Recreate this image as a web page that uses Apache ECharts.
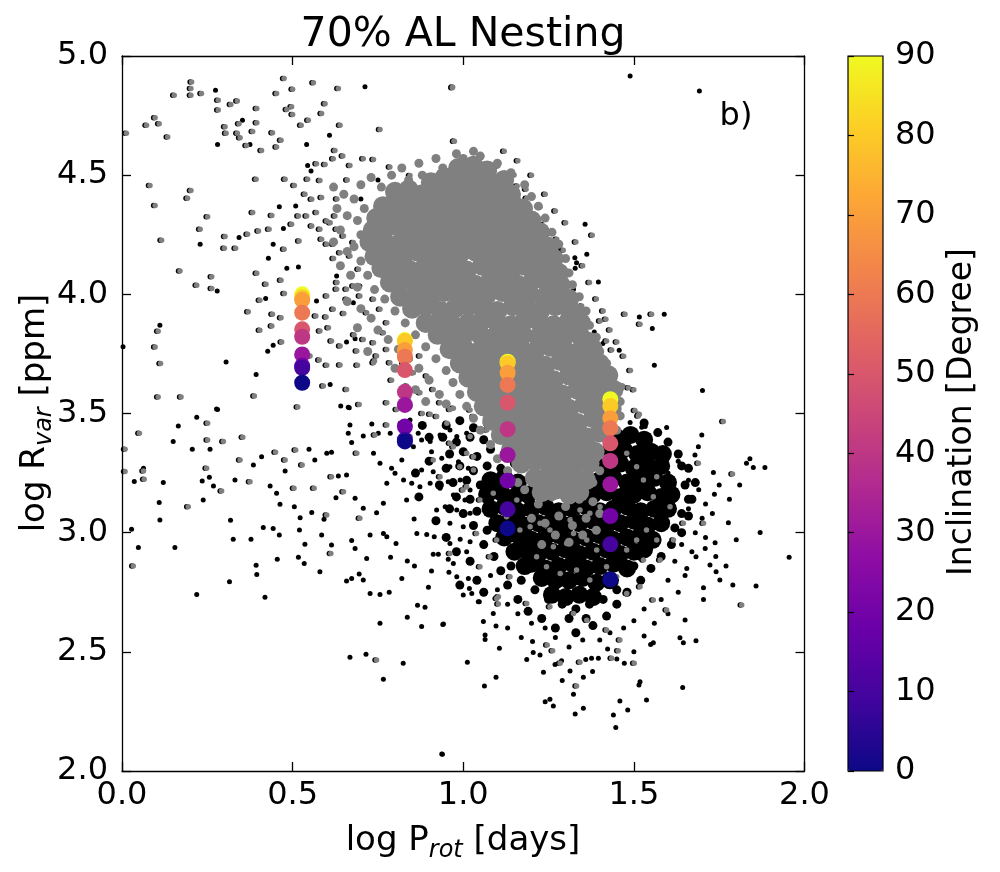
<!DOCTYPE html>
<html><head><meta charset="utf-8">
<script src="https://cdn.jsdelivr.net/npm/echarts@6/dist/echarts.min.js"></script>
<style>html,body{margin:0;padding:0;background:#fff}#c{width:1000px;height:872px}</style>
</head><body><div id="c"></div>
<script>
// ---------------- data ----------------
const xTickLabels = ['0.0','0.5','1.0','1.5','2.0'];
const yTickLabels = ['2.0','2.5','3.0','3.5','4.0','4.5','5.0'];
const cbarTicks = [0,10,20,30,40,50,60,70,80,90];

// model tracks: log P_rot of each track, inclinations, and log R_var per inclination
const incLogP = [0.528, 0.829, 1.130, 1.431];
const incDeg = [90, 80, 70, 60, 50, 40, 30, 20, 10, 0];
const incLogR = [
  [4.000, 3.987, 3.976, 3.923, 3.853, 3.822, 3.748, 3.700, 3.692, 3.629],
  [3.808, 3.804, 3.766, 3.738, 3.682, 3.591, 3.536, 3.445, 3.390, 3.383],
  [3.717, 3.711, 3.671, 3.620, 3.545, 3.434, 3.326, 3.218, 3.098, 3.018],
  [3.560, 3.531, 3.480, 3.438, 3.375, 3.301, 3.203, 3.070, 2.951, 2.804]
];

// dense black population (crowded region)
const blackDense = [
[1.45,3.40],[1.49,3.41],[1.53,3.39],
[1.43,3.34],[1.47,3.35],[1.51,3.33],[1.55,3.34],[1.585,3.33],
[1.42,3.28],[1.46,3.29],[1.50,3.27],[1.54,3.28],[1.58,3.28],
[1.08,3.22],[1.12,3.23],[1.16,3.21],[1.40,3.22],[1.44,3.23],[1.48,3.21],[1.52,3.22],[1.56,3.23],[1.60,3.21],
[1.07,3.16],[1.11,3.17],[1.15,3.15],[1.19,3.16],[1.38,3.16],[1.42,3.17],[1.46,3.15],[1.50,3.16],[1.54,3.17],[1.58,3.15],[1.61,3.16],
[1.08,3.10],[1.12,3.11],[1.16,3.09],[1.20,3.10],[1.24,3.11],[1.28,3.09],[1.32,3.10],[1.36,3.11],[1.40,3.09],[1.44,3.10],[1.48,3.11],[1.52,3.09],[1.56,3.10],[1.60,3.10],
[1.10,3.04],[1.14,3.05],[1.18,3.03],[1.22,3.04],[1.26,3.05],[1.30,3.03],[1.34,3.04],[1.38,3.05],[1.42,3.03],[1.46,3.04],[1.50,3.05],[1.54,3.03],[1.58,3.04],
[1.12,2.98],[1.16,2.99],[1.20,2.97],[1.24,2.98],[1.28,2.99],[1.32,2.97],[1.36,2.98],[1.40,2.99],[1.44,2.97],[1.48,2.98],[1.52,2.99],[1.555,2.97],
[1.15,2.92],[1.18,2.93],[1.22,2.91],[1.26,2.92],[1.30,2.93],[1.34,2.91],[1.38,2.92],[1.42,2.93],[1.46,2.91],[1.50,2.92],[1.53,2.93],
[1.18,2.86],[1.20,2.87],[1.24,2.85],[1.28,2.86],[1.32,2.87],[1.36,2.85],[1.40,2.86],[1.44,2.87],[1.48,2.85],
[1.23,2.81],[1.27,2.80],[1.31,2.80],[1.35,2.81],[1.39,2.79],[1.43,2.80],
[1.26,2.74],[1.30,2.73],[1.34,2.74],[1.38,2.73]
];

// medium density black ring
const blackMid = [
[0.95,3.45],[0.99,3.47],[1.03,3.44],[1.07,3.46],[0.94,3.40],[0.98,3.38],[1.02,3.40],[1.06,3.39],[1.10,3.41],
[0.96,3.33],[1.00,3.34],[1.04,3.32],[1.08,3.35],[1.12,3.33],[0.95,3.27],[0.99,3.28],[1.03,3.26],[1.07,3.28],[1.11,3.27],[1.15,3.29],
[0.97,3.21],[1.01,3.22],[1.05,3.20],[0.98,3.15],[1.02,3.14],[1.00,3.08],[1.04,3.09],[1.03,3.03],[1.07,3.01],[1.06,2.95],
[1.09,2.90],[1.11,2.84],[1.13,2.78],[1.16,2.72],[1.19,2.67],[1.23,2.64],[1.27,2.60],[1.33,2.58],[1.38,2.61],[1.42,2.65],
[1.45,2.70],[1.48,2.75],[1.52,2.80],[1.55,2.85],[1.58,2.90],[1.61,2.95],[1.64,3.00],[1.66,3.07],[1.67,3.14],[1.68,3.21],
[1.66,3.27],[1.63,3.33],[1.60,3.38],[1.57,3.42],[1.53,3.46],
[0.88,3.45],[0.90,3.30],[0.87,3.15],[0.92,3.05],[0.95,2.98],[0.98,2.92],[1.02,2.88],[0.93,3.20],[0.96,3.10],[0.90,3.40],
[0.86,3.25],[1.04,2.80],[1.06,2.75],[0.99,2.78],
[1.25,2.72],[1.29,2.70],[1.33,2.68],[1.37,2.70],[1.41,2.72],[1.21,2.76],[1.45,2.76],[1.31,2.64],[1.36,2.64],[1.64,3.28],
[1.65,3.20],[1.66,3.14],[1.64,3.08],[1.62,3.02],[1.50,2.86],[1.52,2.90],[1.14,2.86],[1.17,2.80]
];

// sparse black population
const blackPts = [
[0.274,4.856],[0.608,4.667],[0.712,4.871],[0.353,4.730],[0.375,4.629],[0.280,4.629],[0.541,4.629],[0.229,4.210],[0.343,4.238],
[0.473,4.276],[0.509,4.371],[0.461,4.368],[0.554,4.517],[0.544,4.541],[0.279,4.014],[0.429,4.151],[0.443,4.210],[0.483,4.109],
[0.517,4.115],[0.421,3.983],[0.443,3.786],[0.427,3.761],[0.393,3.664],[0.305,3.716],[0.111,3.870],[0.280,3.517],[0.610,3.622],
[0.641,3.531],[0.666,3.524],[0.658,3.800],[0.683,3.814],[0.917,4.399],[0.995,4.427],[0.629,4.077],[0.697,4.035],[0.678,3.965],
[0.570,3.972],[0.750,4.480],[0.700,4.400],[0.003,3.780],
[0.277,3.519],[0.219,3.484],[0.165,3.448],[0.150,3.382],[0.206,3.350],[0.258,3.350],[0.036,3.215],[0.121,3.211],[0.109,3.127],
[0.111,3.053],[0.238,3.137],[0.256,3.232],[0.268,3.196],[0.235,3.217],[0.331,3.221],[0.385,3.284],[0.409,3.319],[0.548,3.350],
[0.565,3.305],[0.600,3.333],[0.614,3.337],[0.478,3.259],[0.434,3.196],[0.453,3.165],[0.463,3.119],[0.505,3.109],[0.522,3.063],
[0.556,3.085],[0.592,3.056],[0.318,3.052],[0.326,2.972],[0.378,2.972],[0.414,3.022],[0.443,3.018],[0.461,2.990],[0.520,3.011],
[0.536,2.951],[0.585,2.990],[0.614,2.948],[0.455,2.888],[0.517,2.897],[0.534,2.871],[0.580,2.836],[0.393,2.863],[0.395,2.825],
[0.315,2.794],[0.219,2.741],[0.419,2.729],[0.048,2.938],[0.155,2.938],[0.028,3.014],[0.063,3.270],[0.634,3.238],[0.658,3.242],
[0.627,3.147],[0.683,3.144],[0.707,3.102],[0.746,3.084],[0.766,3.123],[0.727,2.990],[0.766,2.997],[0.776,2.983],[0.673,2.967],
[0.683,2.934],[0.717,2.892],[0.803,2.955],[0.787,2.897],[0.820,2.808],[0.658,2.797],[0.673,2.808],[0.695,2.827],[0.707,2.801],
[0.727,2.745],[0.756,2.741],[0.783,2.750],[0.836,2.881],[0.857,2.860],[0.866,2.695],[0.888,2.687],[0.836,2.645],[0.878,2.606],
[0.940,2.615],[0.756,2.620],[0.668,2.477],[0.715,2.490],[0.824,2.452],[0.766,2.385],[1.012,2.456],[0.937,2.071],[0.893,2.992],
[0.915,2.983],[0.907,2.839],[0.898,2.771],[0.864,2.997],[0.856,3.057],[1.000,2.738],[1.018,2.766],[1.044,2.710],[0.958,2.834],
[0.981,2.815],[1.015,2.808],[0.956,2.888],[0.971,2.871],[0.912,2.909],[0.927,2.909],[0.961,2.955],[0.991,2.972],[1.020,2.962],
[1.010,2.920],[0.668,3.452],[0.663,3.417],[0.673,3.378],[0.707,3.406],[0.732,3.456],[0.751,3.417],[0.786,3.417],[0.815,3.459],
[0.844,3.473],[0.868,3.417],[0.878,3.389],[0.854,3.361],[0.903,3.382],[0.932,3.410],[0.961,3.431],[0.981,3.403],[1.010,3.417],
[0.907,3.340],[0.937,3.312],[0.961,3.277],[0.986,3.298],[1.015,3.270],[0.912,3.256],[0.878,3.263],[0.849,3.207],[0.873,3.193],
[0.903,3.207],[0.932,3.186],[0.956,3.214],[0.991,3.221],[1.020,3.179],[0.971,3.158],[1.005,3.137],[0.922,3.095],[0.947,3.109],
[0.981,3.095],[1.020,3.081],[0.961,3.039],[1.000,3.025],[0.737,3.333],[0.756,3.291],[0.790,3.270],[0.820,3.305],[0.776,3.207],
[0.800,3.249],[0.825,3.221],[0.834,3.137],[0.663,3.526],
[1.489,4.916],[1.692,4.853],[1.067,4.538],[1.083,4.513],[1.230,4.294],[1.281,4.196],[1.327,4.154],[1.332,4.133],[1.328,4.109],
[1.357,4.294],[1.362,4.168],[1.396,4.052],[1.323,4.021],[1.384,3.842],[1.409,3.794],[1.457,3.765],[1.516,3.905],[1.589,3.916],
[1.554,3.857],[1.560,3.702],[1.701,3.597],
[1.699,3.410],[1.596,3.441],[1.523,3.442],[1.533,3.445],[1.489,3.462],[1.689,3.361],[1.679,3.326],[1.733,3.252],[1.830,3.291],
[1.850,3.273],[1.884,3.273],[1.840,3.310],[1.736,3.161],[1.777,3.042],[1.870,3.001],[1.955,2.897],[1.858,2.776],[1.752,2.801],
[1.741,2.836],[1.723,2.864],[1.738,2.958],[1.709,2.934],[1.704,2.720],[1.704,2.769],[1.682,2.899],[1.655,2.850],[1.650,2.634],
[1.682,2.547],[1.645,2.538],[1.643,2.350],[1.635,2.559],[1.557,2.538],[1.530,2.566],[1.549,2.531],[1.518,2.375],[1.515,2.361],
[1.537,2.298],[1.482,2.256],[1.459,2.294],[1.440,2.235],[1.447,2.183],[1.472,2.452],[1.423,2.512],[1.396,2.473],[1.376,2.473],
[1.359,2.468],[1.379,2.417],[1.352,2.393],[1.323,2.322],[1.352,2.263],[1.328,2.239],[1.313,2.420],[1.269,2.447],[1.288,2.463],
[1.235,2.414],[1.254,2.301],[1.240,2.291],[1.264,2.273],[1.225,2.487],[1.205,2.497],[1.186,2.468],[1.106,2.515],[1.096,2.393],
[1.062,2.357],[1.064,2.571],[1.064,2.552],[1.059,2.627],[1.088,2.661],[1.096,2.608],[0.942,2.617],[0.939,2.070],[1.203,2.543],
[1.047,2.710],[1.025,2.745],
[1.60,3.25],[1.63,3.30],[1.66,3.22],[1.69,3.18],[1.71,3.12],[1.66,3.10],[1.70,3.06],[1.73,3.08],[1.68,3.00],[1.64,2.95],
[1.67,2.92],[1.71,2.98],[1.62,2.88],[1.65,2.82],[1.60,2.80],[1.63,2.75],[1.58,2.72],[1.60,2.66],[1.56,2.62],[1.53,2.68],
[1.50,2.63],[1.47,2.60],[1.43,2.58],[1.40,2.55],[1.35,2.55],[1.31,2.52],[1.27,2.56],[1.24,2.60],[1.20,2.62],[1.16,2.66],
[1.13,2.70],[1.10,2.76],[1.08,2.82],[1.75,3.20],[1.78,3.14],[1.74,2.90],[1.77,2.86],[1.80,2.97],[1.81,3.20],[1.79,2.78],
[1.45,2.47],[1.50,2.50],[1.29,2.38],[1.17,2.56],[1.13,2.60]
];

// dense grey population (crowded region)
const greyDense = [
[0.985,4.53],[1.03,4.54],[1.07,4.52],
[0.905,4.47],[0.945,4.49],[0.99,4.48],[1.035,4.49],[1.08,4.47],[1.12,4.48],
[0.80,4.43],[0.84,4.44],[0.88,4.42],[0.925,4.43],[0.965,4.44],[1.01,4.43],[1.05,4.42],[1.095,4.44],[1.14,4.42],
[0.765,4.37],[0.805,4.38],[0.85,4.37],[0.89,4.39],[0.935,4.38],[0.975,4.37],[1.02,4.38],[1.06,4.39],[1.10,4.37],[1.145,4.38],[1.175,4.36],
[0.745,4.32],[0.79,4.33],[0.83,4.32],[0.875,4.34],[0.915,4.33],[0.955,4.32],[1.00,4.33],[1.04,4.32],[1.085,4.34],[1.125,4.33],[1.165,4.32],[1.20,4.31],
[0.735,4.27],[0.775,4.28],[0.82,4.27],[0.86,4.29],[0.90,4.28],[0.945,4.27],[0.985,4.28],[1.03,4.29],[1.07,4.27],[1.11,4.28],[1.155,4.27],[1.195,4.28],[1.225,4.26],
[0.725,4.22],[0.765,4.23],[0.81,4.21],[0.85,4.22],[0.89,4.23],[0.935,4.22],[0.975,4.21],[1.02,4.23],[1.06,4.22],[1.10,4.21],[1.145,4.23],[1.185,4.22],[1.225,4.21],[1.25,4.20],
[0.74,4.16],[0.78,4.17],[0.825,4.16],[0.865,4.18],[0.905,4.17],[0.95,4.16],[0.99,4.17],[1.035,4.18],[1.075,4.16],[1.12,4.17],[1.16,4.16],[1.20,4.18],[1.24,4.16],[1.265,4.15],
[0.76,4.11],[0.80,4.12],[0.845,4.10],[0.885,4.11],[0.93,4.12],[0.97,4.11],[1.01,4.10],[1.055,4.12],[1.095,4.11],[1.14,4.10],[1.18,4.12],[1.22,4.11],[1.26,4.10],[1.28,4.09],
[0.785,4.05],[0.825,4.06],[0.87,4.04],[0.91,4.05],[0.95,4.06],[0.995,4.05],[1.035,4.04],[1.08,4.06],[1.12,4.05],[1.16,4.04],[1.205,4.06],[1.245,4.05],[1.285,4.04],
[0.815,3.99],[0.86,4.00],[0.905,3.99],[0.945,4.01],[0.985,4.00],[1.03,3.99],[1.07,4.00],[1.115,4.01],[1.155,3.99],[1.195,4.00],[1.24,3.99],[1.28,4.00],[1.31,3.98],
[0.85,3.94],[0.89,3.95],[0.935,3.93],[0.975,3.94],[1.015,3.95],[1.06,3.94],[1.10,3.93],[1.145,3.95],[1.185,3.94],[1.225,3.93],[1.27,3.95],[1.31,3.94],[1.33,3.92],
[0.89,3.88],[0.93,3.89],[0.97,3.87],[1.015,3.88],[1.055,3.89],[1.10,3.88],[1.14,3.87],[1.18,3.89],[1.225,3.88],[1.265,3.87],[1.31,3.89],[1.345,3.88],
[0.925,3.83],[0.965,3.82],[1.01,3.84],[1.05,3.83],[1.09,3.82],[1.135,3.84],[1.175,3.83],[1.22,3.82],[1.26,3.84],[1.30,3.83],[1.345,3.82],[1.37,3.80],
[0.96,3.77],[1.00,3.78],[1.045,3.76],[1.085,3.77],[1.13,3.78],[1.17,3.77],[1.21,3.76],[1.255,3.78],[1.295,3.77],[1.34,3.76],[1.38,3.77],
[0.99,3.71],[1.03,3.72],[1.075,3.70],[1.115,3.71],[1.16,3.72],[1.20,3.71],[1.24,3.70],[1.285,3.72],[1.325,3.71],[1.37,3.70],[1.40,3.71],
[1.015,3.65],[1.055,3.66],[1.10,3.64],[1.14,3.65],[1.185,3.66],[1.225,3.65],[1.265,3.64],[1.31,3.66],[1.35,3.65],[1.39,3.64],[1.425,3.66],
[1.04,3.59],[1.08,3.60],[1.125,3.58],[1.165,3.59],[1.21,3.60],[1.25,3.59],[1.29,3.58],[1.335,3.60],[1.375,3.59],[1.415,3.58],[1.44,3.60],
[1.06,3.53],[1.10,3.54],[1.145,3.52],[1.185,3.53],[1.23,3.54],[1.27,3.53],[1.31,3.52],[1.355,3.54],[1.395,3.53],[1.435,3.52],
[1.085,3.47],[1.125,3.48],[1.17,3.46],[1.21,3.47],[1.25,3.48],[1.295,3.47],[1.335,3.46],[1.38,3.48],[1.42,3.47],
[1.11,3.41],[1.15,3.42],[1.195,3.40],[1.235,3.41],[1.28,3.42],[1.32,3.41],[1.36,3.40],[1.40,3.42],
[1.14,3.35],[1.18,3.36],[1.225,3.34],[1.265,3.35],[1.305,3.36],[1.35,3.35],[1.385,3.34],
[1.17,3.29],[1.21,3.30],[1.255,3.28],[1.295,3.29],[1.335,3.30],[1.37,3.29],
[1.21,3.23],[1.25,3.24],[1.29,3.22],[1.33,3.23],[1.36,3.22],
[1.23,3.17],[1.27,3.18],[1.31,3.16],[1.34,3.17]
];

// medium density grey halo
const greyMid = [
[0.70,4.46],[0.73,4.49],[0.76,4.45],[0.68,4.40],[0.71,4.36],[0.69,4.31],[0.70,4.25],[0.68,4.20],[0.70,4.14],[0.72,4.08],
[0.74,4.02],[0.77,3.98],[0.80,3.93],[0.83,3.88],[0.86,3.83],[0.89,3.78],[0.92,3.73],[0.95,3.68],[0.97,3.63],[0.99,3.58],
[1.01,3.53],[1.03,3.48],[1.05,3.43],[1.08,3.37],[1.10,3.31],[1.13,3.26],[1.16,3.21],
[0.84,4.48],[0.88,4.50],[0.94,4.53],[1.00,4.57],[1.05,4.58],[1.10,4.55],[1.14,4.51],[1.18,4.46],[1.20,4.41],
[1.22,4.37],[1.24,4.32],[1.26,4.26],[1.28,4.21],[1.30,4.15],[1.31,4.09],[1.32,4.04],[1.34,3.99],[1.36,3.93],[1.37,3.87],
[1.39,3.82],[1.40,3.76],[1.42,3.71],[1.44,3.66],[1.46,3.61],[1.46,3.55],[1.46,3.49],[1.45,3.43],[1.43,3.37],[1.42,3.31],
[1.40,3.26],[1.38,3.21],
[1.18,3.18],[1.22,3.12],[1.26,3.15],[1.30,3.11],[1.34,3.14],[1.38,3.13],[1.20,3.06],[1.24,3.04],[1.28,3.07],[1.32,3.03],
[1.36,3.06],[1.40,3.08],[1.27,2.99],[1.31,2.96],[1.35,2.99],[1.23,2.95],[1.39,3.01],
[0.62,4.45],[0.65,4.42],[0.63,4.36],[0.66,4.33],[0.64,4.27],[0.62,4.22],[0.66,4.18],[0.64,4.12],[0.67,4.08],[0.69,4.03],
[0.66,3.97],[0.70,3.94],[0.73,3.90],[0.69,3.86],[0.75,3.85],[0.78,3.81],[0.72,3.76],[0.81,3.77],[0.84,3.73],[0.80,3.69],
[0.87,3.69],[0.90,3.64],[0.86,3.60],[0.93,3.58],[0.95,3.54],[0.89,3.55],
[0.79,4.50],[0.82,4.53],[0.87,4.55],[0.92,4.57],[0.98,4.59],[1.03,4.60]
];

// sparse grey population
const greyPts = [
[0.204,4.891],[0.202,4.864],[0.202,4.835],[0.153,4.835],[0.233,4.843],[0.282,4.814],[0.282,4.773],[0.319,4.797],[0.338,4.811],
[0.395,4.780],[0.483,4.776],[0.497,4.787],[0.500,4.755],[0.475,4.906],[0.500,4.860],[0.453,4.843],[0.561,4.888],[0.634,4.864],
[0.595,4.800],[0.585,4.759],[0.546,4.730],[0.525,4.709],[0.639,4.709],[0.756,4.692],[0.968,4.867],[0.973,4.642],[1.018,4.538],
[0.013,4.676],[0.072,4.709],[0.097,4.741],[0.109,4.716],[0.134,4.660],[0.302,4.703],[0.305,4.676],[0.338,4.676],[0.343,4.716],
[0.395,4.720],[0.383,4.683],[0.346,4.657],[0.365,4.625],[0.409,4.604],[0.441,4.678],[0.466,4.646],[0.453,4.618],[0.082,4.457],
[0.202,4.436],[0.192,4.403],[0.097,4.373],[0.251,4.326],[0.229,4.273],[0.116,4.227],[0.302,4.243],[0.300,4.193],[0.333,4.193],
[0.368,4.252],[0.400,4.266],[0.431,4.273],[0.497,4.294],[0.517,4.329],[0.383,4.343],[0.439,4.331],[0.393,4.483],[0.478,4.483],
[0.505,4.457],[0.544,4.483],[0.580,4.478],[0.570,4.548],[0.595,4.545],[0.624,4.604],[0.647,4.580],[0.619,4.569],[0.668,4.541],
[0.707,4.569],[0.737,4.566],[0.785,4.534],[0.844,4.499],[0.873,4.443],[0.834,4.462],[0.805,4.434],[0.170,4.098],[0.263,4.074],
[0.219,4.038],[0.263,4.025],[0.475,4.189],[0.519,4.224],[0.395,4.088],[0.422,4.042],[0.466,4.059],[0.476,4.004],[0.404,3.975],
[0.370,3.927],[0.441,3.916],[0.466,3.902],[0.404,3.849],[0.439,3.867],[0.468,3.800],[0.106,3.845],[0.097,3.779],[0.113,3.710],
[0.106,3.569],[0.173,3.569],[0.388,3.573],[0.515,3.527],[0.590,3.615],[0.658,3.601],[0.695,3.538],[0.578,3.724],[0.600,3.702],
[0.551,3.741],[0.568,3.909],[0.598,3.905],[0.605,3.860],[0.580,3.846],[0.614,3.804],[0.639,3.783],[0.688,3.762],[0.690,3.702],
[0.639,3.703],[0.536,4.420],[0.556,4.399],[0.585,4.406],[0.541,4.329],[0.570,4.343],[0.600,4.308],[0.624,4.329],[0.556,4.287],
[0.580,4.273],[0.629,4.273],[0.649,4.245],[0.600,4.210],[0.585,4.231],[0.619,4.210],[0.639,4.175],[0.668,4.161],[0.678,4.217],
[0.693,4.105],[0.678,4.035],[0.658,4.021],[0.629,4.021],[0.600,3.993],[0.619,3.937],[0.658,3.979],[0.697,3.993],[0.737,3.979],
[0.717,3.923],[0.756,3.937],[0.776,3.881],[0.766,3.839],[0.737,3.797],[0.707,3.811],[0.776,3.769],[0.746,3.741],[0.785,3.713],
[0.737,3.713],[0.824,3.713],[0.854,3.671],[0.873,3.741],[0.893,3.657],[0.834,3.615],[0.873,3.587],[0.912,3.601],[0.776,3.545],
[0.805,3.517],[0.844,3.531],[0.932,3.545],[0.961,3.517],[0.903,3.497],
[0.051,3.417],[0.251,3.459],[0.251,3.389],[0.297,3.383],[0.354,3.400],[0.009,3.350],[0.009,3.257],[0.063,3.259],[0.065,3.224],
[0.194,3.109],[0.248,3.270],[0.292,3.175],[0.346,3.305],[0.375,3.214],[0.450,3.337],[0.478,3.305],[0.509,3.347],[0.528,3.284],
[0.504,3.186],[0.563,3.186],[0.600,3.074],[0.612,2.913],[0.033,2.860],[0.614,3.235],[0.649,3.172],[0.697,3.060],[0.746,2.466],
[0.688,3.333],[0.741,3.410],[0.776,3.452],[0.912,3.305],[0.971,3.361],[1.010,3.333],[1.020,3.403],[0.952,3.459],[0.922,3.487],
[0.971,3.522],[1.020,3.515],[0.844,3.403],[0.932,3.235],[0.999,3.179],[1.030,3.263],[0.961,2.913],[1.039,2.997],
[0.969,4.870],[0.974,4.642],[1.101,4.538],[1.149,4.501],[1.132,4.457],[1.158,4.455],[1.184,4.441],[1.186,4.403],[1.225,4.366],
[1.201,4.301],[1.244,4.266],[1.274,4.231],[1.293,4.185],[1.378,4.248],[1.303,4.091],[1.347,3.951],[1.352,3.912],[1.401,3.888],
[1.418,3.895],[1.420,3.804],[1.435,3.766],[1.474,3.916],[1.518,3.874],[1.552,3.916],[1.484,3.608],[1.467,3.615],[1.503,3.513],
[1.516,3.497],[1.445,3.664],[1.430,3.685],[1.391,3.713],[0.981,4.469],[0.971,4.434],
[1.762,3.466],[1.513,3.489],[1.689,3.291],[1.789,3.246],[1.816,2.696],[1.704,3.039],[1.501,2.452],[1.435,2.473],[1.454,2.505],
[1.342,2.456],[1.332,2.357],[1.284,2.452],[1.262,2.505],[1.246,2.529],[1.098,2.724],[1.103,2.701],
[1.166,3.011],[1.196,3.025],[1.225,3.039],[1.254,3.011],[1.284,3.067],[1.313,3.053],[1.342,3.095],[1.371,3.081],[1.401,3.109],
[1.323,2.997],[1.362,2.969],[1.391,2.927],[1.303,2.955],[1.264,2.941],[1.215,2.899],[1.244,2.857],[1.284,2.829],[1.332,2.843],
[1.371,2.801],[1.420,2.857],[1.450,2.815],[1.479,2.745],[1.518,2.773],[1.557,2.717],[1.596,2.676],[1.186,2.703],[1.254,2.689],
[1.323,2.661],[1.362,2.633],[1.420,2.592],[1.459,2.550],[1.479,2.927],[1.508,2.969],[1.537,3.011],[1.567,2.969],[1.528,2.885],
[1.577,2.885],[1.616,2.969],[1.606,3.109],[1.645,3.039],[1.557,3.151],[1.528,3.221],[1.567,3.235],[1.508,3.277],[1.479,3.333],
[1.157,3.137],[1.127,3.067],[1.098,2.969],[1.078,2.899],[1.137,2.815],[1.103,2.731],[1.049,2.857],[1.088,3.165],[1.049,3.137],
[1.010,3.193],[0.990,3.277],[1.030,3.319],[0.961,3.375],[1.069,3.431],[1.030,3.487],
[1.30,4.30],[1.33,4.22],[1.35,4.12],[1.37,4.05],[1.39,3.98],[1.41,3.93],[1.43,3.85],[1.45,3.80],[1.47,3.74],[1.49,3.68],
[1.50,3.60],[1.27,4.35],[1.24,4.42],[1.20,4.50],[1.16,4.56],[1.12,4.60],
[0.66,4.48],[0.63,4.40],[0.61,4.30],[0.62,4.15],[0.63,4.05],[0.65,3.92],[0.68,3.83],[0.74,3.72],[0.79,3.64],[0.84,3.57],[0.88,3.50]
];

// ---------------- chart ----------------
const FONT = 'DejaVu Sans';
const plasma = ['#0d0887','#41049d','#6a00a8','#8f0da4','#b12a90','#cc4778','#e16462','#f2844b','#fca636','#fcce25','#f0f921'];

const incData = [];
incLogP.forEach((lp, g) => incDeg.forEach((d, k) => incData.push([lp, incLogR[g][k], d])));

function sc(name, data, size, color, extra) {
  return Object.assign({
    name, type: 'scatter', data, symbolSize: size, xAxisIndex: 0, yAxisIndex: 0,
    itemStyle: { color: color, opacity: 1 }, silent: true, animation: false, z: 2
  }, extra || {});
}

const axisLineStyle = { color: '#000', width: 1.3 };
const mainTick = { show: true, inside: true, length: 9, lineStyle: { color: '#000', width: 1.3 } };
const labelStyle = { color: '#000', fontSize: 32, fontFamily: FONT };

const option = {
  backgroundColor: '#fff',
  animation: false,
  grid: [
    { left: 122, right: 195.5, top: 56, bottom: 101, containLabel: false },
    { left: 848, top: 56, width: 35, height: 715, show: true, borderColor: '#000', borderWidth: 1.2, backgroundColor: 'rgba(0,0,0,0)', z: 10 }
  ],
  xAxis: [
    { gridIndex: 0, type: 'value', min: 0, max: 2, interval: 0.5, position: 'bottom', z: 10,
      axisLine: { show: true, lineStyle: axisLineStyle }, axisTick: mainTick,
      axisLabel: Object.assign({ margin: 9, formatter: v => xTickLabels[Math.round(v / 0.5)] }, labelStyle),
      splitLine: { show: false } },
    { gridIndex: 0, type: 'value', min: 0, max: 2, interval: 0.5, position: 'top', z: 10,
      axisLine: { show: true, onZero: false, lineStyle: axisLineStyle }, axisTick: mainTick,
      axisLabel: { show: false }, splitLine: { show: false } },
    { gridIndex: 1, type: 'value', min: 0, max: 1, show: false }
  ],
  yAxis: [
    { gridIndex: 0, type: 'value', min: 2, max: 5, interval: 0.5, position: 'left', z: 10,
      axisLine: { show: true, onZero: false, lineStyle: axisLineStyle }, axisTick: mainTick,
      axisLabel: Object.assign({ margin: 14, formatter: v => yTickLabels[Math.round((v - 2) / 0.5)] }, labelStyle),
      splitLine: { show: false } },
    { gridIndex: 0, type: 'value', min: 2, max: 5, interval: 0.5, position: 'right', z: 10,
      axisLine: { show: true, onZero: false, lineStyle: axisLineStyle }, axisTick: mainTick,
      axisLabel: { show: false }, splitLine: { show: false } },
    { gridIndex: 1, type: 'value', min: 0, max: 90, interval: 10, position: 'right', z: 10,
      axisLine: { show: false },
      axisTick: { show: true, inside: false, length: 6, lineStyle: { color: '#000', width: 1.2 } },
      axisLabel: Object.assign({ margin: 12, formatter: v => String(cbarTicks[Math.round(v / 10)]) }, labelStyle),
      splitLine: { show: false } }
  ],
  visualMap: {
    type: 'continuous', min: 0, max: 90, dimension: 2, seriesIndex: 7,
    orient: 'vertical', left: 848, top: 56, itemWidth: 35, itemHeight: 715, padding: 0,
    calculable: false, realtime: false, hoverLink: false, text: null,
    inRange: { color: plasma, opacity: 1 }, textStyle: { color: 'rgba(0,0,0,0)' }
  },
  series: [
    sc('blackDense', blackDense, 18, '#000'),
    sc('blackMid', blackMid, 9, '#000'),
    sc('blackPts', blackPts, 5, '#000'),
    sc('greyShadow', greyPts, 5.5, '#000', { symbolOffset: [-1.5, 0] }),
    sc('greyDense', greyDense, 20, '#808080'),
    sc('greyMid', greyMid, 9, '#808080'),
    sc('greyPts', greyPts, 5.5, '#808080'),
    sc('inclination', incData, 16, '#000', { z: 3 })
  ],
  graphic: [
    { type: 'text', x: 463, y: 35, z: 20, silent: true,
      style: { text: '70% AL Nesting', font: '41px "DejaVu Sans"', fill: '#000', textAlign: 'center', textVerticalAlign: 'middle', align: 'center', verticalAlign: 'middle' } },
    { type: 'text', x: 736, y: 117, z: 20, silent: true,
      style: { text: 'b)', font: '32px "DejaVu Sans"', fill: '#000', textAlign: 'center', textVerticalAlign: 'middle', align: 'center', verticalAlign: 'middle' } },
    { type: 'text', x: 463, y: 841, z: 20, silent: true,
      style: { text: '{a|log P}{s|rot}{a| [days]}', fill: '#000', textAlign: 'center', textVerticalAlign: 'middle', align: 'center', verticalAlign: 'middle',
        rich: { a: { fontSize: 34, fontFamily: FONT, lineHeight: 44, fill: '#000' },
                s: { fontSize: 24, fontFamily: FONT, fontStyle: 'italic', lineHeight: 24, verticalAlign: 'bottom', fill: '#000' } } } },
    { type: 'text', x: 35, y: 413, rotation: Math.PI / 2, z: 20, silent: true,
      style: { text: '{a|log R}{s|var}{a| [ppm]}', fill: '#000', textAlign: 'center', textVerticalAlign: 'middle', align: 'center', verticalAlign: 'middle',
        rich: { a: { fontSize: 34, fontFamily: FONT, lineHeight: 44, fill: '#000' },
                s: { fontSize: 24, fontFamily: FONT, fontStyle: 'italic', lineHeight: 24, verticalAlign: 'bottom', fill: '#000' } } } },
    { type: 'text', x: 962, y: 412, rotation: Math.PI / 2, z: 20, silent: true,
      style: { text: 'Inclination [Degree]', font: '33px "DejaVu Sans"', fill: '#000', textAlign: 'center', textVerticalAlign: 'middle', align: 'center', verticalAlign: 'middle' } }
  ]
};

const chart = echarts.init(document.getElementById('c'), null, { renderer: 'canvas' });
chart.setOption(option);
</script>
</body></html>
